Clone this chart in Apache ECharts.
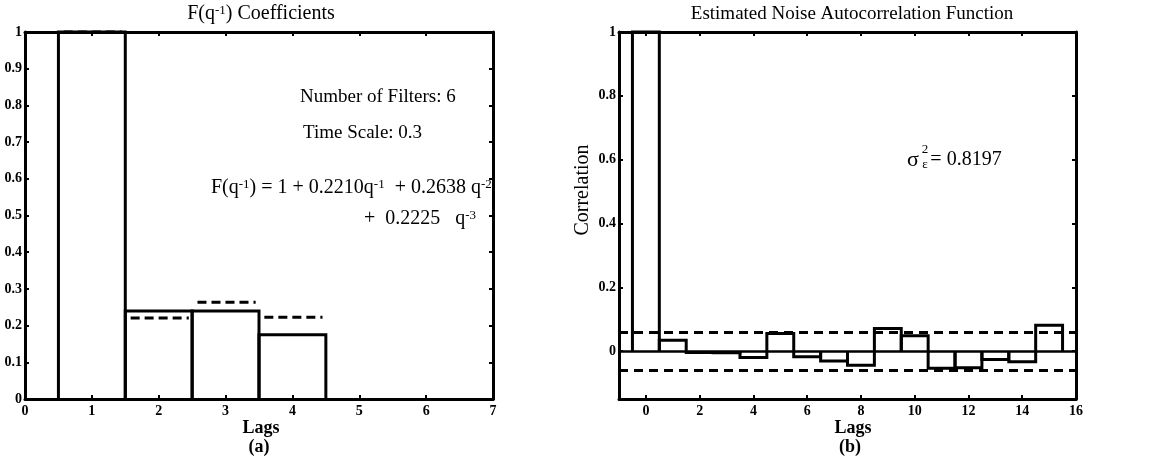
<!DOCTYPE html>
<html>
<head>
<meta charset="utf-8">
<script src="https://cdn.jsdelivr.net/npm/echarts@6/dist/echarts.min.js"></script>
<style>
    html, body { margin: 0; padding: 0; background: #fff; }
    #chart { width: 1155px; height: 465px; }
</style>
</head>
<body>
<div id="chart"></div>
<script>
    // left panel: F(q^-1) coefficients
    var fLags = [1, 2, 3, 4];
    var fBars = [1, 0.24, 0.24, 0.175];
    var fCoefs = [1, 0.2210, 0.2638, 0.2225];
    var fXTicks = [0, 1, 2, 3, 4, 5, 6, 7];
    var fYTicks = [0, 0.1, 0.2, 0.3, 0.4, 0.5, 0.6, 0.7, 0.8, 0.9, 1];

    // right panel: noise autocorrelation
    var acfLags = [0, 1, 2, 3, 4, 5, 6, 7, 8, 9, 10, 11, 12, 13, 14, 15];
    var acfValues = [1, 0.034, -0.004, -0.005, -0.02, 0.055, -0.018, -0.031, -0.044, 0.071, 0.048, -0.054, -0.052, -0.026, -0.033, 0.081];
    var confBound = 0.055;
    var acfXTicks = [0, 2, 4, 6, 8, 10, 12, 14, 16];
    var acfYTicks = [0, 0.2, 0.4, 0.6, 0.8, 1];

    var FONT = '"Liberation Serif", "DejaVu Serif", serif';

    function xAx(grid, min, max, ticks, top) {
        return {
            type: 'value', gridIndex: grid, min: min, max: max,
            position: top ? 'top' : 'bottom',
            axisLine: {onZero: false, lineStyle: {color: '#000', width: 3}},
            axisTick: {inside: true, length: 4, customValues: ticks, lineStyle: {color: '#000', width: 2}},
            axisLabel: {show: !top, customValues: ticks, color: '#000', fontFamily: FONT, fontWeight: 'bold', fontSize: 14, margin: 5},
            splitLine: {show: false}
        };
    }
    function yAx(grid, min, max, ticks, right) {
        return {
            type: 'value', gridIndex: grid, min: min, max: max,
            position: right ? 'right' : 'left',
            axisLine: {onZero: false, lineStyle: {color: '#000', width: 3}},
            axisTick: {inside: true, length: 4, customValues: ticks, lineStyle: {color: '#000', width: 2}},
            axisLabel: {show: !right, customValues: ticks, color: '#000', fontFamily: FONT, fontWeight: 'bold', fontSize: 14, margin: 3},
            splitLine: {show: false}
        };
    }

    function barOutline(params, api) {
        var x = api.value(0), v = api.value(1);
        var a = api.coord([x - 0.5, 0]);
        var b = api.coord([x + 0.5, v]);
        return {
            type: 'polyline',
            shape: {points: [[a[0], a[1]], [a[0], b[1]], [b[0], b[1]], [b[0], a[1]]]},
            style: {stroke: '#000', lineWidth: 3, fill: 'none'}
        };
    }
    function dashSeg(params, api) {
        var x = api.value(0), v = api.value(1);
        var a = api.coord([x - 0.42, v]);
        var b = api.coord([x + 0.45, v]);
        return {
            type: 'line',
            shape: {x1: a[0], y1: a[1], x2: b[0], y2: b[1]},
            style: {stroke: '#000', lineWidth: 3, lineDash: [9, 5]}
        };
    }

    function txt(x, y, text, size, weight, extra) {
        var st = {
            text: text, fill: '#000', fontFamily: FONT, fontSize: size, fontWeight: weight || 'normal',
            align: 'center', verticalAlign: 'middle', textAlign: 'center', textVerticalAlign: 'middle'
        };
        if (extra) for (var k in extra) st[k] = extra[k];
        return {type: 'text', x: x, y: y, style: st};
    }
    var sup = {fontSize: 13, verticalAlign: 'top', lineHeight: 12, fontFamily: FONT};
    var leftRich = {rich: {s: sup}, align: 'left', textAlign: 'left'};

    var option = {
        animation: false,
        backgroundColor: '#fff',
        grid: [
            {left: 25, right: 662, top: 32, bottom: 66},
            {left: 619, right: 79, top: 32, bottom: 66}
        ],
        xAxis: [
            xAx(0, 0, 7, fXTicks, false), xAx(0, 0, 7, fXTicks, true),
            xAx(1, -1, 16, acfXTicks, false), xAx(1, -1, 16, acfXTicks, true)
        ],
        yAxis: [
            yAx(0, 0, 1, fYTicks, false), yAx(0, 0, 1, fYTicks, true),
            yAx(1, -0.15, 1, acfYTicks, false), yAx(1, -0.15, 1, acfYTicks, true)
        ],
        series: [
            {
                type: 'custom', xAxisIndex: 0, yAxisIndex: 0, renderItem: barOutline,
                data: fLags.map(function (l, i) { return [l, fBars[i]]; })
            },
            {
                type: 'custom', xAxisIndex: 0, yAxisIndex: 0, renderItem: dashSeg,
                data: fLags.map(function (l, i) { return [l, fCoefs[i]]; })
            },
            {
                type: 'custom', xAxisIndex: 2, yAxisIndex: 2, renderItem: barOutline,
                data: acfLags.map(function (l, i) { return [l, acfValues[i]]; }),
                markLine: {
                    silent: true, symbol: 'none', label: {show: false}, animation: false,
                    data: [
                        {yAxis: 0, lineStyle: {color: '#000', width: 2.5, type: 'solid'}},
                        {yAxis: confBound, lineStyle: {color: '#000', width: 3, type: [9, 6]}},
                        {yAxis: -confBound, lineStyle: {color: '#000', width: 3, type: [9, 6]}}
                    ]
                }
            }
        ],
        graphic: [
            txt(261, 14, 'F(q{s|-1}) Coefficients', 20, 'normal', {rich: {s: sup}}),
            txt(852, 14, 'Estimated Noise Autocorrelation Function', 19),
            txt(261, 428, 'Lags', 18, 'bold'),
            txt(259, 447, '(a)', 18, 'bold'),
            txt(853, 428, 'Lags', 18, 'bold'),
            txt(850, 447, '(b)', 18, 'bold'),
            txt(300, 97, 'Number of Filters: 6', 19, 'normal', {align: 'left', textAlign: 'left'}),
            txt(303, 133, 'Time Scale: 0.3', 19, 'normal', {align: 'left', textAlign: 'left'}),
            txt(211, 188, 'F(q{s|-1}) = 1 + 0.2210q{s|-1}  + 0.2638 q{s|-2}', 20, 'normal', leftRich),
            txt(364, 219, '+  0.2225   q{s|-3}', 20, 'normal', leftRich),
            txt(913, 160, 'σ', 22),
            txt(925, 150, '2', 13),
            txt(925, 165, 'ε', 13),
            txt(966, 160, '= 0.8197', 20),
            {type: 'text', x: 583, y: 190, rotation: Math.PI / 2,
                style: {text: 'Correlation', fill: '#000', fontFamily: FONT, fontSize: 20,
                    align: 'center', verticalAlign: 'middle', textAlign: 'center', textVerticalAlign: 'middle'}}
        ]
    };

    var chart = echarts.init(document.getElementById('chart'));
    chart.setOption(option);
</script>
</body>
</html>
